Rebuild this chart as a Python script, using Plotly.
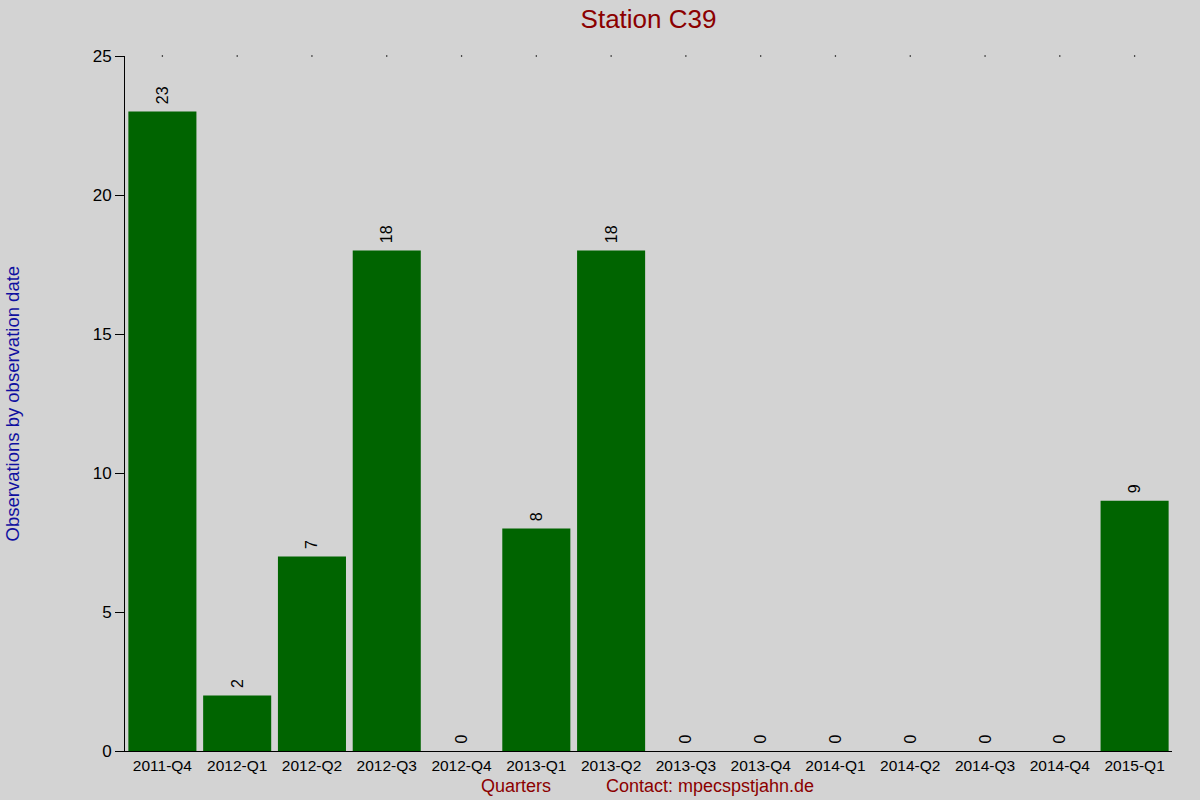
import plotly.graph_objects as go

# quarters and number of observations per quarter
quarters = ['2011-Q4', '2012-Q1', '2012-Q2', '2012-Q3', '2012-Q4', '2013-Q1', '2013-Q2',
            '2013-Q3', '2013-Q4', '2014-Q1', '2014-Q2', '2014-Q3', '2014-Q4', '2015-Q1']
observations = [23, 2, 7, 18, 0, 8, 18, 0, 0, 0, 0, 0, 0, 9]
y_ticks = [0, 5, 10, 15, 20, 25]
y_max = 25

font = 'Liberation Sans, Arial, sans-serif'
bg = '#d3d3d3'

fig = go.Figure()
fig.add_trace(go.Bar(
    x=quarters, y=observations,
    marker=dict(color='#006400', line=dict(width=0)),
    text=['\u00a0' + str(v) for v in observations],
    textposition='outside', textangle=-90,
    textfont=dict(family=font, size=16, color='black'),
    cliponaxis=False,
))
# small dots along the top of the plot
fig.add_trace(go.Scatter(
    x=quarters, y=[y_max] * len(quarters), mode='markers',
    marker=dict(color='black', size=1.5), cliponaxis=False, hoverinfo='skip',
))

fig.update_layout(
    width=1200, height=800,
    paper_bgcolor=bg, plot_bgcolor=bg,
    showlegend=False,
    bargap=0.09,
    margin=dict(l=125, r=28, t=56, b=49),
    font=dict(family=font, size=15, color='black'),
    title=dict(text='Station C39', x=0.5, xref='paper', y=0.977, yanchor='middle',
               font=dict(family=font, size=26, color='#8b0000')),
    xaxis=dict(range=[-0.5, len(quarters) - 0.5], showgrid=False, showline=True,
               linecolor='black', linewidth=1, ticks='', tickfont=dict(size=15.5),
               zeroline=False),
    yaxis=dict(range=[0, y_max], tickvals=y_ticks, showgrid=False, showline=True,
               linecolor='black', linewidth=1, ticks='outside', ticklen=9,
               tickcolor='black', tickfont=dict(size=17), zeroline=False),
    annotations=[
        dict(text='Observations by observation date', xref='paper', yref='paper',
             x=-113 / 1047, y=0.5, xanchor='center', yanchor='middle', textangle=-90,
             showarrow=False, font=dict(family=font, size=18.5, color='#1010a0')),
        dict(text='Quarters', xref='paper', yref='paper',
             x=(516 - 125) / 1047, y=-35 / 695, xanchor='center', yanchor='middle',
             showarrow=False, font=dict(family=font, size=18, color='#8b0000')),
        dict(text='Contact: mpecspstjahn.de', xref='paper', yref='paper',
             x=(710 - 125) / 1047, y=-35 / 695, xanchor='center', yanchor='middle',
             showarrow=False, font=dict(family=font, size=18, color='#8b0000')),
    ],
)

fig.write_html("out.html", config={'displayModeBar': False},
               post_script="document.body.style.margin = '0';")
